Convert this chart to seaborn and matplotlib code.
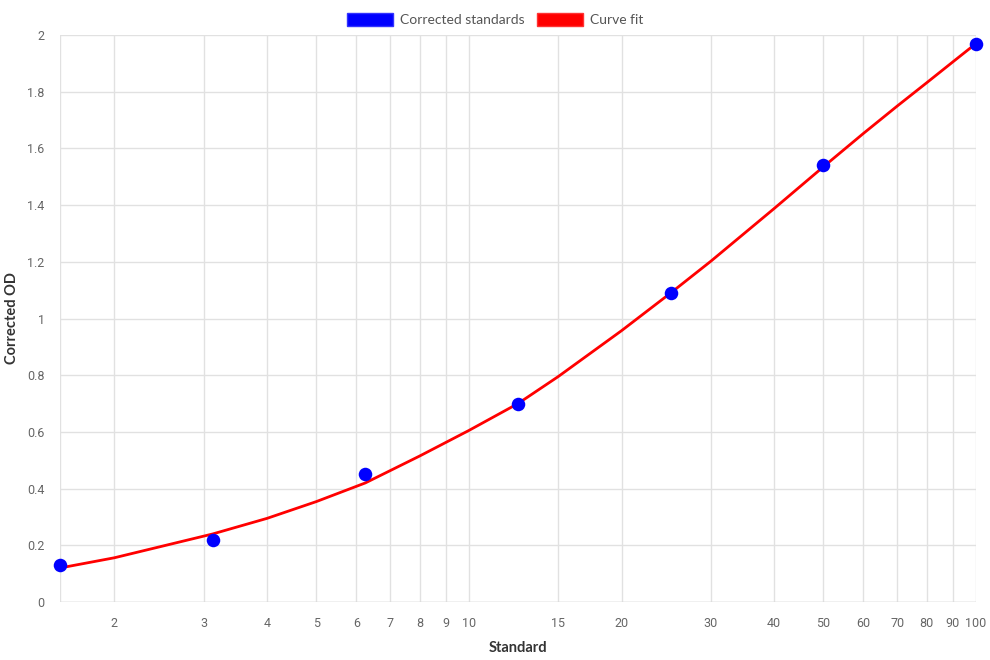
import numpy as np
import pandas as pd
import seaborn as sns
import matplotlib.pyplot as plt
from matplotlib.patches import Patch

# standards and corrected OD
standard = [1.5625, 3.125, 6.25, 12.5, 25, 50, 100]
corrected_od = [0.13, 0.22, 0.45, 0.70, 1.09, 1.54, 1.97]

# curve fit
fit_x = [1.5625, 2, 3.125, 4, 5, 6.25, 8, 10, 12.5, 15, 20, 25, 30, 40, 50, 60, 70, 80, 90, 100]
fit_y = [0.12, 0.156, 0.24, 0.295, 0.354, 0.42, 0.515, 0.605, 0.70, 0.795, 0.957, 1.09, 1.202, 1.388,
         1.535, 1.653, 1.75, 1.832, 1.905, 1.97]

x_ticks = [2, 3, 4, 5, 6, 7, 8, 9, 10, 15, 20, 30, 40, 50, 60, 70, 80, 90, 100]
y_ticks = [0, 0.2, 0.4, 0.6, 0.8, 1, 1.2, 1.4, 1.6, 1.8, 2]

df_pts = pd.DataFrame({'Standard': standard, 'OD': corrected_od})
df_fit = pd.DataFrame({'Standard': fit_x, 'OD': fit_y})

sns.set_style('white')
plt.rcParams['font.family'] = ['Roboto', 'DejaVu Sans']

fig = plt.figure(figsize=(9.9, 6.6), dpi=100)
ax = fig.add_axes([60 / 990, 1 - 602 / 660, 916 / 990, 567 / 660])

sns.lineplot(data=df_fit, x='Standard', y='OD', color='red', linewidth=2, ax=ax, zorder=3)
sns.scatterplot(data=df_pts, x='Standard', y='OD', color='blue', s=95, edgecolor='blue',
                linewidth=0, ax=ax, zorder=4, clip_on=False)

ax.set_xscale('log')
ax.set_xlim(1.5625, 100)
ax.set_ylim(0, 2)
ax.set_xticks(x_ticks)
ax.set_xticklabels([str(t) for t in x_ticks])
ax.xaxis.set_minor_locator(plt.NullLocator())
ax.set_yticks(y_ticks)
ax.set_yticklabels([f'{t:g}' for t in y_ticks])

grid_c = '#e1e1e1'
ax.grid(True, color=grid_c, linewidth=1)
ax.axvline(1.5625, color=grid_c, linewidth=1, zorder=0)
for s in ax.spines.values():
    s.set_visible(False)
ax.axhline(0, color='#d0d0d0', linewidth=1, zorder=1)
ax.tick_params(axis='both', length=8, color=grid_c, labelsize=9, labelcolor='#666666', pad=3)

ax.set_xlabel('Standard', fontsize=10.5, fontweight='bold', color='#333333',
              family=['Lato', 'DejaVu Sans'], labelpad=8)
ax.set_ylabel('Corrected OD', fontsize=10.5, fontweight='bold', color='#333333',
              family=['Lato', 'DejaVu Sans'], labelpad=6)

handles = [Patch(facecolor='blue', edgecolor='#3333ff', label='Corrected standards'),
           Patch(facecolor='red', edgecolor='#ff3333', label='Curve fit')]
fig.legend(handles=handles, loc='upper center', bbox_to_anchor=(0.5, 1.0), ncol=2, frameon=False,
           handlelength=3.3, handleheight=1.1, handletextpad=0.5, columnspacing=0.9,
           prop={'family': 'Lato', 'size': 10}, labelcolor='#555555')

fig.savefig('out.png', dpi=100)
